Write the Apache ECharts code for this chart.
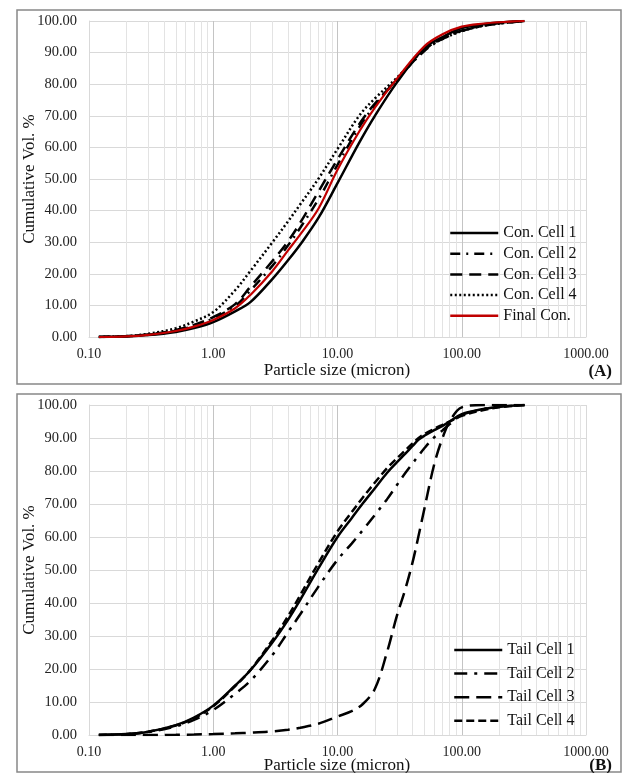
<!DOCTYPE html>
<html>
<head>
<meta charset="utf-8">
<script src="https://cdn.jsdelivr.net/npm/echarts@6/dist/echarts.min.js"></script>
<style>
html,body{margin:0;padding:0;background:#fff;}
#chart{width:622px;height:773px;}
</style>
</head>
<body>
<div id="chart"></div>
<script>
// particle sizes (micron) for panel A
var sizesA = [0.12, 0.2, 0.3, 0.5, 0.7, 1, 1.5, 2, 3, 4, 5, 7, 10, 15, 20, 30, 50, 70, 100, 150, 200, 320];
var conCell1 = [0, 0.2, 0.6, 1.6, 2.8, 4.7, 8.1, 11.1, 18.4, 24.3, 29.2, 37.6, 48.7, 61.6, 70.0, 80.5, 91.5, 94.9, 97.8, 99.0, 99.5, 100];
var conCell2 = [0, 0.2, 0.7, 2.0, 3.5, 5.9, 9.8, 14.8, 22.6, 29.0, 34.5, 43.5, 54.5, 66.5, 73.3, 81.5, 90.5, 94.3, 96.8, 98.5, 99.2, 100];
var conCell3 = [0, 0.25, 0.8, 2.2, 3.8, 6.3, 10.4, 16.0, 24.1, 30.3, 36.1, 45.9, 56.2, 67.4, 73.9, 81.3, 90.8, 94.5, 97.0, 98.6, 99.3, 100];
var conCell4 = [0, 0.3, 1.0, 2.8, 4.9, 7.9, 14.8, 21.0, 30.0, 36.6, 41.9, 50.0, 59.5, 70.1, 75.5, 82.0, 91.0, 94.3, 96.8, 98.5, 99.2, 100];
var finalCon = [0, 0.2, 0.7, 1.9, 3.3, 5.4, 9.1, 13.4, 20.9, 27.4, 32.4, 40.5, 52.9, 65.1, 72.6, 81.7, 92.0, 95.8, 98.2, 99.2, 99.6, 100];

// particle sizes (micron) for panel B
var sizesB = [0.12, 0.2, 0.3, 0.5, 0.7, 1, 1.5, 2, 3, 4, 5, 7, 10, 13, 16, 20, 25, 30, 35, 40, 45, 50, 60, 70, 80, 100, 150, 200, 320];
var tailCell1 = [0, 0.3, 1.0, 3.0, 5.3, 8.9, 15.0, 19.7, 28.1, 34.9, 40.9, 50.4, 60.0, 65.7, 70.2, 74.8, 79.4, 82.6, 85.2, 87.5, 89.5, 90.7, 92.4, 93.7, 95.0, 97.2, 98.8, 99.5, 100];
var tailCell2 = [0, 0.25, 0.9, 2.6, 4.6, 7.6, 12.5, 16.5, 24.3, 31.2, 36.5, 44.9, 53.1, 58.0, 62.1, 66.7, 71.4, 75.7, 79.3, 82.2, 84.7, 86.9, 90.2, 92.3, 94.2, 97.0, 98.8, 99.5, 100];
var tailCell3 = [0, 0, 0, 0.05, 0.15, 0.3, 0.5, 0.7, 1.1, 1.6, 2.2, 3.4, 5.6, 7.2, 9.4, 14.0, 25.0, 36.0, 44.0, 52.0, 60.5, 68.5, 82.0, 90.0, 95.0, 99.3, 100, 100, 100];
var tailCell4 = [0, 0.3, 1.0, 2.9, 5.1, 8.7, 14.8, 19.8, 28.8, 36.0, 42.3, 52.0, 61.7, 67.5, 72.0, 76.5, 80.8, 83.8, 86.2, 88.3, 90.0, 91.2, 92.8, 94.0, 95.0, 96.7, 98.5, 99.3, 100];

var namesA = ['Con. Cell 1', 'Con. Cell 2', 'Con. Cell 3', 'Con. Cell 4', 'Final Con.'];
var namesB = ['Tail Cell 1', 'Tail Cell 2', 'Tail Cell 3', 'Tail Cell 4'];

// minor vertical grid lines 2..9 per decade
var minorX = [];
[0.1, 1, 10, 100].forEach(function (d) {
    for (var k = 2; k <= 9; k++) minorX.push(+(d * k).toFixed(4));
});

var SERIF = "'Liberation Serif', 'Times New Roman', serif";

function pairs(xs, ys) {
    return xs.map(function (x, i) { return [x, ys[i]]; });
}

function lineSeries(name, idx, xs, ys, color, dash, width) {
    return {
        name: name,
        type: 'line',
        xAxisIndex: idx,
        yAxisIndex: idx,
        data: pairs(xs, ys),
        symbol: 'none',
        smooth: 0.35,
        lineStyle: {color: color, width: width || 2.5, type: dash},
        itemStyle: {color: color},
        z: 3
    };
}

function gridSeries(idx) {
    return {
        type: 'line',
        xAxisIndex: idx,
        yAxisIndex: idx,
        data: [],
        silent: true,
        markLine: {
            silent: true,
            symbol: 'none',
            label: {show: false},
            z: 1,
            lineStyle: {color: '#e3e3e3', type: 'solid', width: 1},
            data: minorX.map(function (v) { return {xAxis: v}; })
        }
    };
}

function xAxis(idx) {
    return {
        type: 'log',
        gridIndex: idx,
        logBase: 10,
        min: 0.1,
        max: 1000,
        axisLine: {show: true, lineStyle: {color: '#d9d9d9', width: 1}},
        axisTick: {show: false},
        axisLabel: {
            color: '#222',
            fontFamily: SERIF,
            fontSize: 14,
            margin: 10,
            formatter: function (v) { return Number(v).toFixed(2); }
        },
        splitLine: {show: true, lineStyle: {color: ['#d9d9d9', '#c4c4c4', '#c4c4c4', '#c4c4c4', '#d9d9d9'], width: 1}}
    };
}

function yAxis(idx) {
    return {
        type: 'value',
        gridIndex: idx,
        min: 0,
        max: 100,
        interval: 10,
        axisLine: {show: true, lineStyle: {color: '#d9d9d9', width: 1}},
        axisTick: {show: false},
        axisLabel: {
            color: '#222',
            fontFamily: SERIF,
            fontSize: 14.5,
            margin: 12,
            formatter: function (v) { return v.toFixed(2); }
        },
        splitLine: {show: true, lineStyle: {color: '#d9d9d9', width: 1}}
    };
}

function legend(names, left, top, gap) {
    return {
        data: names,
        orient: 'vertical',
        left: left,
        top: top,
        padding: 0,
        itemWidth: 48,
        itemHeight: 14,
        itemGap: gap,
        itemStyle: {opacity: 0},
        lineStyle: {width: 2.5},
        selectedMode: false,
        textStyle: {fontFamily: SERIF, fontSize: 16, color: '#111', lineHeight: 16}
    };
}

function text(str, x, y, opts) {
    return Object.assign({
        type: 'text',
        x: x,
        y: y,
        style: {
            text: str,
            fill: '#111',
            font: '17px ' + SERIF,
            textAlign: 'center',
            textVerticalAlign: 'middle'
        }
    }, opts || {});
}

var chart = echarts.init(document.getElementById('chart'), null, {renderer: 'canvas'});

var option = {
    backgroundColor: '#fff',
    animation: false,
    grid: [
        {left: 89, top: 21, width: 497, height: 316},
        {left: 89, top: 405, width: 497, height: 330}
    ],
    xAxis: [xAxis(0), xAxis(1)],
    yAxis: [yAxis(0), yAxis(1)],
    legend: [
        legend(namesA, 449, 225, 4.7),
        legend(namesB, 453, 642, 7.6)
    ],
    graphic: [
        {type: 'rect', shape: {x: 17, y: 10, width: 604, height: 374}, style: {fill: 'none', stroke: '#888', lineWidth: 1.5}, z: -1},
        {type: 'rect', shape: {x: 17, y: 394, width: 604, height: 378}, style: {fill: 'none', stroke: '#888', lineWidth: 1.5}, z: -1},
        text('Particle size (micron)', 337, 371),
        text('Particle size (micron)', 337, 766),
        text('Cumulative Vol. %', 30, 179, {rotation: Math.PI / 2}),
        text('Cumulative Vol. %', 30, 570, {rotation: Math.PI / 2}),
        {type: 'text', x: 612, y: 372, style: {text: '(A)', fill: '#111', font: 'bold 17px ' + SERIF, textAlign: 'right', textVerticalAlign: 'middle'}},
        {type: 'text', x: 612, y: 766, style: {text: '(B)', fill: '#111', font: 'bold 17px ' + SERIF, textAlign: 'right', textVerticalAlign: 'middle'}}
    ],
    series: [
        gridSeries(0),
        gridSeries(1),
        lineSeries(namesA[0], 0, sizesA, conCell1, '#000', 'solid'),
        lineSeries(namesA[1], 0, sizesA, conCell2, '#000', [10, 6, 2, 6]),
        lineSeries(namesA[2], 0, sizesA, conCell3, '#000', [12, 7]),
        lineSeries(namesA[3], 0, sizesA, conCell4, '#000', [2, 2.5]),
        lineSeries(namesA[4], 0, sizesA, finalCon, '#c00000', 'solid', 2.2),
        lineSeries(namesB[0], 1, sizesB, tailCell1, '#000', 'solid'),
        lineSeries(namesB[1], 1, sizesB, tailCell2, '#000', [13, 7, 3, 7]),
        lineSeries(namesB[2], 1, sizesB, tailCell3, '#000', [15, 7]),
        lineSeries(namesB[3], 1, sizesB, tailCell4, '#000', [8, 4])
    ]
};

chart.setOption(option);
</script>
</body>
</html>
